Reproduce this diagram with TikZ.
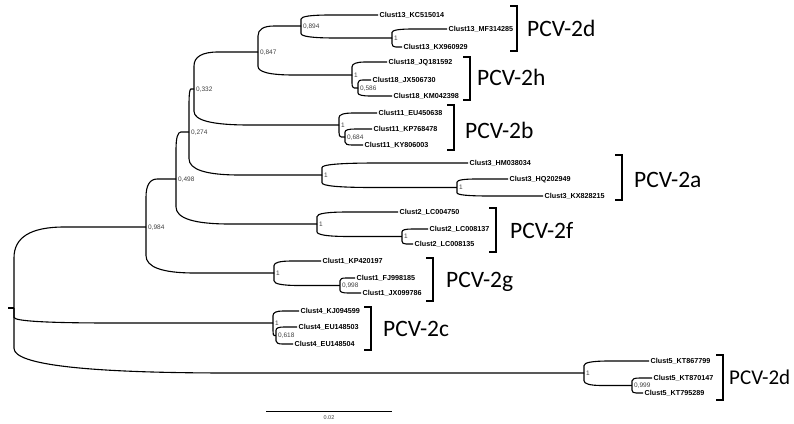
\documentclass[tikz,border=0pt]{standalone}
\usepackage{fontspec}
\setmainfont{Liberation Sans}
\newfontfamily\calib{Carlito}
\usetikzlibrary{calc}
\tikzset{
  branch/.style={line width=1.1pt, black},
  brk/.style={line width=1.1pt, black},
  tiplab/.style={anchor=base west, inner sep=0pt, xshift=1.5pt, yshift=-2.6pt, font=\bfseries\fontsize{7.2}{8}\selectfont},
  supp/.style={anchor=base west, inner sep=0pt, xshift=2pt, yshift=-2.3pt, font=\fontsize{6.5}{7}\selectfont, text=black!75},
  clade/.style={anchor=base west, inner sep=0pt, yshift=-7.6pt, font=\calib\fontsize{23.5}{28}\selectfont},
  cladesmall/.style={anchor=base west, inner sep=0pt, yshift=-6.8pt, font=\calib\fontsize{21}{25}\selectfont},
}
\newcommand\brn[2]{\draw[branch] let \p1=(#1), \p2=(#2) in (\p1) -- (\x1,{\y1+0.62*(\y2-\y1)}) .. controls (\x1,{\y1+0.8733*(\y2-\y1)}) and ({\x1+0.1267*(\x2-\x1)},\y2) .. ({\x1+0.38*(\x2-\x1)},\y2) -- (\p2);}
\newcommand\brkt[3]{\draw[brk] (#1-7,#2) -- (#1,#2) -- (#1,#3) -- (#1-7,#3);}
\begin{document}
\begin{tikzpicture}[x=1pt,y=-1pt]
\useasboundingbox (0,0) rectangle (794,423);
% internal nodes
\coordinate (stub) at (8,308);
\coordinate (root) at (14,308);
\coordinate (n984) at (146,227);
\coordinate (n498) at (176,179);
\coordinate (n274) at (189,132);
\coordinate (n332) at (194,89);
\coordinate (n847) at (258,52);
\coordinate (n894) at (301,26);
\coordinate (c13s) at (392,38);
\coordinate (c18) at (352,75);
\coordinate (c18s) at (358,88);
\coordinate (c11) at (339,125);
\coordinate (c11s) at (345,137);
\coordinate (c3) at (322,175);
\coordinate (c3s) at (457,187.5);
\coordinate (c2) at (317,224);
\coordinate (c2s) at (402,236.5);
\coordinate (c1) at (274,273);
\coordinate (c1s) at (340,285.5);
\coordinate (c4) at (273,323);
\coordinate (c4s) at (276,335.5);
\coordinate (c5) at (584,373);
\coordinate (c5s) at (632,385.5);
% tips
\coordinate (t13a) at (378,15);
\coordinate (t13b) at (447,29);
\coordinate (t13c) at (402,47);
\coordinate (t18a) at (387,62);
\coordinate (t18b) at (371,80);
\coordinate (t18c) at (392,96);
\coordinate (t11a) at (377,113);
\coordinate (t11b) at (372,129);
\coordinate (t11c) at (363,145);
\coordinate (t3a) at (468,163);
\coordinate (t3b) at (508,179);
\coordinate (t3c) at (543,196);
\coordinate (t2a) at (398,212);
\coordinate (t2b) at (428,229);
\coordinate (t2c) at (413,244);
\coordinate (t1a) at (321,261);
\coordinate (t1b) at (355,278);
\coordinate (t1c) at (361,293);
\coordinate (t4a) at (299,311);
\coordinate (t4b) at (297,327);
\coordinate (t4c) at (293,344);
\coordinate (t5a) at (649,361);
\coordinate (t5b) at (652,378);
\coordinate (t5c) at (643,393);
% branches
\draw[branch] (stub) -- (root);
\brn{root}{n984}\brn{root}{c4}\brn{root}{c5}
\brn{n984}{n498}\brn{n984}{c1}
\brn{n498}{n274}\brn{n498}{c2}
\brn{n274}{n332}\brn{n274}{c3}
\brn{n332}{n847}\brn{n332}{c11}
\brn{n847}{n894}\brn{n847}{c18}
\brn{n894}{t13a}\brn{n894}{c13s}
\brn{c13s}{t13b}\brn{c13s}{t13c}
\brn{c18}{t18a}\brn{c18}{c18s}
\brn{c18s}{t18b}\brn{c18s}{t18c}
\brn{c11}{t11a}\brn{c11}{c11s}
\brn{c11s}{t11b}\brn{c11s}{t11c}
\brn{c3}{t3a}\brn{c3}{c3s}
\brn{c3s}{t3b}\brn{c3s}{t3c}
\brn{c2}{t2a}\brn{c2}{c2s}
\brn{c2s}{t2b}\brn{c2s}{t2c}
\brn{c1}{t1a}\brn{c1}{c1s}
\brn{c1s}{t1b}\brn{c1s}{t1c}
\brn{c4}{t4a}\brn{c4}{c4s}
\brn{c4s}{t4b}\brn{c4s}{t4c}
\brn{c5}{t5a}\brn{c5}{c5s}
\brn{c5s}{t5b}\brn{c5s}{t5c}
% tip labels
\node[tiplab] (l13a) at (t13a) {Clust13\_KC515014};
\node[tiplab] (l13b) at (t13b) {Clust13\_MF314285};
\node[tiplab] (l13c) at (t13c) {Clust13\_KX960929};
\node[tiplab] (l18a) at (t18a) {Clust18\_JQ181592};
\node[tiplab] (l18b) at (t18b) {Clust18\_JX506730};
\node[tiplab] (l18c) at (t18c) {Clust18\_KM042398};
\node[tiplab] (l11a) at (t11a) {Clust11\_EU450638};
\node[tiplab] (l11b) at (t11b) {Clust11\_KP768478};
\node[tiplab] (l11c) at (t11c) {Clust11\_KY806003};
\node[tiplab] (l3a) at (t3a) {Clust3\_HM038034};
\node[tiplab] (l3b) at (t3b) {Clust3\_HQ202949};
\node[tiplab] (l3c) at (t3c) {Clust3\_KX828215};
\node[tiplab] (l2a) at (t2a) {Clust2\_LC004750};
\node[tiplab] (l2b) at (t2b) {Clust2\_LC008137};
\node[tiplab] (l2c) at (t2c) {Clust2\_LC008135};
\node[tiplab] (l1a) at (t1a) {Clust1\_KP420197};
\node[tiplab] (l1b) at (t1b) {Clust1\_FJ998185};
\node[tiplab] (l1c) at (t1c) {Clust1\_JX099786};
\node[tiplab] (l4a) at (t4a) {Clust4\_KJ094599};
\node[tiplab] (l4b) at (t4b) {Clust4\_EU148503};
\node[tiplab] (l4c) at (t4c) {Clust4\_EU148504};
\node[tiplab] (l5a) at (t5a) {Clust5\_KT867799};
\node[tiplab] (l5b) at (t5b) {Clust5\_KT870147};
\node[tiplab] (l5c) at (t5c) {Clust5\_KT795289};
% support values
\node[supp] (s984) at (n984) {0,984};
\node[supp] (s498) at (n498) {0,498};
\node[supp] (s274) at (n274) {0,274};
\node[supp] (s332) at (n332) {0,332};
\node[supp] (s847) at (n847) {0,847};
\node[supp] (s894) at (n894) {0,894};
\node[supp] (s13s) at (c13s) {1};
\node[supp] (s18) at (c18) {1};
\node[supp] (s18s) at (c18s) {0,586};
\node[supp] (s11) at (c11) {1};
\node[supp] (s11s) at (c11s) {0,684};
\node[supp] (s3) at (c3) {1};
\node[supp] (s3s) at (c3s) {1};
\node[supp] (s2) at (c2) {1};
\node[supp] (s2s) at (c2s) {1};
\node[supp] (s1) at (c1) {1};
\node[supp] (s1s) at (c1s) {0,998};
\node[supp] (s4) at (c4) {1};
\node[supp] (s4s) at (c4s) {0,618};
\node[supp] (s5) at (c5) {1};
\node[supp] (s5s) at (c5s) {0,999};
% clade brackets and labels
\brkt{517}{6}{51}
\node[clade] (k13) at (527,29) {PCV-2d};
\brkt{470}{57}{100}
\node[clade] (k18) at (477,78) {PCV-2h};
\brkt{454}{105}{150}
\node[clade] (k11) at (465,131) {PCV-2b};
\brkt{622}{155}{200}
\node[clade] (k3) at (634,180) {PCV-2a};
\brkt{496}{208}{252}
\node[clade] (k2) at (510,231) {PCV-2f};
\brkt{433}{258}{301}
\node[clade] (k1) at (446,280) {PCV-2g};
\brkt{371}{307}{350}
\node[clade] (k4) at (383,329) {PCV-2c};
\brkt{723}{355}{400}
\node[cladesmall] (k5) at (729,378) {PCV-2d};
% scale bar
\coordinate (sb1) at (266,411);
\coordinate (sb2) at (392,411);
\draw[line width=0.8pt] (sb1) -- (sb2);
\node[font=\fontsize{5.5}{6}\selectfont, inner sep=0pt, text=black!75] (sbl) at (329,418) {0.02};
\end{tikzpicture}
\end{document}
